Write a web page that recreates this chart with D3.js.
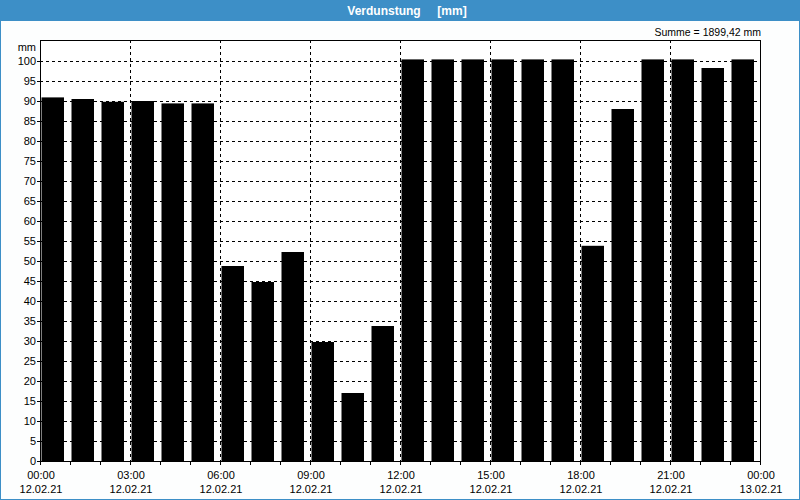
<!DOCTYPE html>
<html>
<head>
<meta charset="utf-8">
<script src="https://cdn.jsdelivr.net/npm/d3@7"></script>
<style>
  html, body { margin: 0; padding: 0; background: #fff; }
  svg { display: block; }
  text { font-family: "Liberation Sans", Arial, sans-serif; font-size: 11px; fill: #000; }
</style>
</head>
<body>
<svg id="chart" width="800" height="500"></svg>
<script>
const title = "Verdunstung     [mm]";
const unit = "mm";
const sumLabel = "Summe = 1899,42 mm";
const hours = d3.range(24);
const values = [90.9, 90.5, 89.8, 90.0, 89.4, 89.4,
                48.75, 44.75, 52.25, 29.75, 17.0, 33.75,
                100.4, 100.4, 100.4, 100.4, 100.4, 100.4,
                53.8, 88.0, 100.4, 100.4, 98.25, 100.4];
const timeTicks = [0, 3, 6, 9, 12, 15, 18, 21, 24];
const timeLabels = ["00:00", "03:00", "06:00", "09:00", "12:00", "15:00", "18:00", "21:00", "00:00"];
const dateLabels = ["12.02.21", "12.02.21", "12.02.21", "12.02.21", "12.02.21", "12.02.21", "12.02.21", "12.02.21", "13.02.21"];
const yTicks = d3.range(0, 101, 5);

const svg = d3.select("#chart");
const W = 800, H = 500;
const L = 40, R = 760, T = 40, B = 461;

// outer frame and title bar
svg.append("rect").attr("x", 0.5).attr("y", 0.5).attr("width", W - 1).attr("height", H - 1)
  .attr("fill", "#fdfefe").attr("stroke", "#3d8fc7");
svg.append("rect").attr("x", 0).attr("y", 0).attr("width", W).attr("height", 21).attr("fill", "#3d8fc7");
svg.append("text").attr("x", 407).attr("y", 14.5).attr("text-anchor", "middle")
  .style("fill", "#fff").style("font-weight", "bold").style("font-size", "12px").style("white-space", "pre")
  .attr("xml:space", "preserve").text(title);

const x = d3.scaleLinear().domain([0, 24]).range([L, R]);
const y = d3.scaleLinear().domain([0, 105]).range([B, B - 420]);

// plot background
svg.append("rect").attr("x", L).attr("y", T).attr("width", R - L + 1).attr("height", B - T).attr("fill", "#fff");

// horizontal grid
svg.append("g").selectAll("line").data(yTicks.filter(d => d > 0)).join("line")
  .attr("x1", L).attr("x2", R + 1)
  .attr("y1", d => Math.round(y(d)) + 0.5).attr("y2", d => Math.round(y(d)) + 0.5)
  .attr("stroke", "#000").attr("stroke-dasharray", "3,3");
// vertical grid
svg.append("g").selectAll("line").data(timeTicks.slice(1, -1)).join("line")
  .attr("x1", d => x(d) + 0.5).attr("x2", d => x(d) + 0.5)
  .attr("y1", T).attr("y2", B)
  .attr("stroke", "#000").attr("stroke-dasharray", "3,3");

// bars
svg.append("g").selectAll("rect").data(hours).join("rect")
  .attr("x", d => x(d) + 1.5)
  .attr("width", d => x(d + 1) - x(d) - 7.5)
  .attr("y", d => y(values[d]))
  .attr("height", d => y(0) - y(values[d]))
  .attr("fill", "#000");

// frame
svg.append("rect").attr("x", L + 0.5).attr("y", T + 0.5).attr("width", R - L).attr("height", B - T)
  .attr("fill", "none").attr("stroke", "#000");

// x ticks
svg.append("g").selectAll("line").data(d3.range(25)).join("line")
  .attr("x1", d => x(d) + 0.5).attr("x2", d => x(d) + 0.5)
  .attr("y1", B).attr("y2", B + 4).attr("stroke", "#000");

// y axis ticks and labels
svg.append("g").selectAll("line").data(yTicks).join("line")
  .attr("x1", L - 3).attr("x2", L)
  .attr("y1", d => Math.round(y(d)) + 0.5).attr("y2", d => Math.round(y(d)) + 0.5)
  .attr("stroke", "#000");
svg.append("g").selectAll("text").data(yTicks).join("text")
  .attr("x", 36).attr("y", d => y(d) + 4).attr("text-anchor", "end").text(d => d);
svg.append("text").attr("x", 36).attr("y", 51).attr("text-anchor", "end").text(unit);

// x labels
svg.append("g").selectAll("text").data(timeTicks).join("text")
  .attr("x", d => x(d) + 1).attr("y", 479).attr("text-anchor", "middle").text((d, i) => timeLabels[i]);
svg.append("g").selectAll("text").data(timeTicks).join("text")
  .attr("x", d => x(d) + 1).attr("y", 493).attr("text-anchor", "middle").text((d, i) => dateLabels[i]);

// sum label
svg.append("text").attr("x", 761).attr("y", 36).attr("text-anchor", "end").style("font-size", "10.5px").text(sumLabel);
</script>
</body>
</html>
